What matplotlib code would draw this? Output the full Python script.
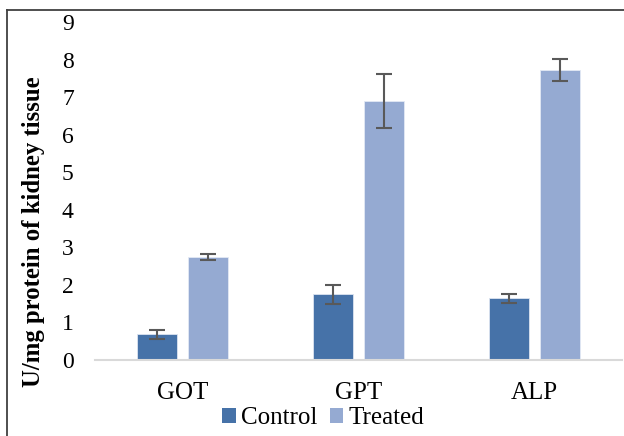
import matplotlib
matplotlib.use("Agg")
import matplotlib.pyplot as plt
import numpy as np
from matplotlib.lines import Line2D
from matplotlib.patches import Patch

categories = ["GOT", "GPT", "ALP"]
control = [0.68, 1.75, 1.64]
control_err = [0.13, 0.26, 0.12]
treated = [2.74, 6.90, 7.72]
treated_err = [0.09, 0.71, 0.29]
yticks = list(range(0, 10))

plt.rcParams['font.family'] = ['Liberation Serif', 'DejaVu Serif']

fig = plt.figure(figsize=(6.24, 4.36), dpi=100)
ax = fig.add_axes([94.6/624, 1-360/436, (622.1-94.6)/624, (360-22)/436])

x = np.arange(len(categories))
w = 0.228
off = 0.145
c1 = "#4672A8"
c2 = "#95AAD2"
ekw = dict(ecolor="#595959", elinewidth=1.5, capsize=6, capthick=1.5)
ax.bar(x - off, control, w, color=c1, edgecolor="#DCE4F0", linewidth=0.6,
       yerr=control_err, error_kw=ekw, label="Control", zorder=2)
ax.bar(x + off, treated, w, color=c2, edgecolor="#E3E9F4", linewidth=0.6,
       yerr=treated_err, error_kw=ekw, label="Treated", zorder=2)

ax.set_xlim(-0.5, 2.5)
ax.set_ylim(0, 9)
ax.set_yticks(yticks)
ax.set_xticks(x)
ax.set_xticklabels(categories, fontsize=18)
ax.tick_params(axis='y', labelsize=17, length=0, pad=15)
ax.tick_params(axis='x', length=0, pad=16)
for s in ["top", "right", "left"]:
    ax.spines[s].set_visible(False)
ax.spines["bottom"].set_color("#D9D9D9")
ax.spines["bottom"].set_linewidth(1.5)
fig.text(34/624, 1-232/436, "U/mg protein of kidney tissue", rotation=90,
         ha="center", va="center", fontsize=17.8, fontweight="bold")

handles = [Patch(facecolor=c1, label="Control"), Patch(facecolor=c2, label="Treated")]
fig.legend(handles=handles, loc="center", bbox_to_anchor=(323/624, 1-418/436), ncol=2,
           frameon=False, fontsize=18, handlelength=0.55, handleheight=0.55,
           handletextpad=0.2, columnspacing=0.5, borderaxespad=0)

# figure border (left and top visible)
fig.add_artist(Line2D([7/624, 7/624], [0, 1-10.5/436], transform=fig.transFigure, color="#404040", lw=1.3))
fig.add_artist(Line2D([7/624, 1], [1-10.5/436, 1-10.5/436], transform=fig.transFigure, color="#404040", lw=1.3))

fig.savefig("out.png", dpi=100)
